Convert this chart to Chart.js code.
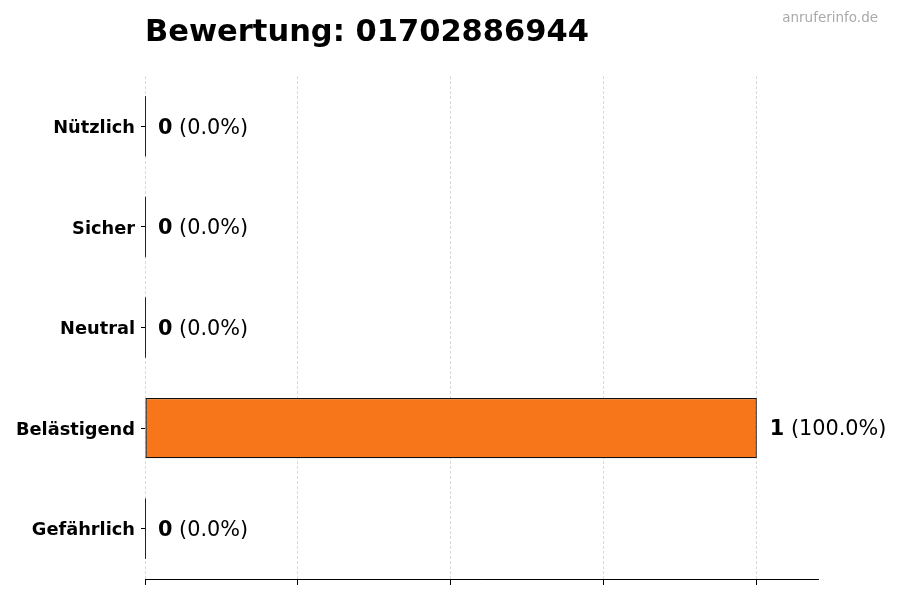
<!DOCTYPE html>
<html>
<head>
<meta charset="utf-8">
<script src="https://cdn.jsdelivr.net/npm/chart.js@4"></script>
<style>
  html, body { margin: 0; padding: 0; background: #fff; }
</style>
</head>
<body>
<canvas id="chart" width="900" height="600"></canvas>
<script>
// Daten
const categories = ['Nützlich', 'Sicher', 'Neutral', 'Belästigend', 'Gefährlich'];
const counts = [0, 0, 0, 1, 0];
const percents = [0.0, 0.0, 0.0, 100.0, 0.0];
const xTicks = [0, 0.25, 0.5, 0.75, 1];
const titleText = 'Bewertung: 01702886944';
const sourceText = 'anruferinfo.de';

const FONT = '"DejaVu Sans", Verdana, sans-serif';

// Werte-Labels neben den Balken + Kante der Null-Balken
const labelPlugin = {
    id: 'valueLabels',
    afterDatasetsDraw(chart) {
        const ctx = chart.ctx;
        const meta = chart.getDatasetMeta(0);
        ctx.save();
        meta.data.forEach((bar, i) => {
            if (counts[i] === 0) {
                ctx.strokeStyle = '#222';
                ctx.lineWidth = 1;
                ctx.beginPath();
                ctx.moveTo(bar.x + 0.5, bar.y - bar.height / 2);
                ctx.lineTo(bar.x + 0.5, bar.y + bar.height / 2);
                ctx.stroke();
            }
            let x = bar.x + 13;
            const y = bar.y + 2;
            ctx.textBaseline = 'middle';
            ctx.textAlign = 'left';
            ctx.fillStyle = '#000';
            ctx.font = 'bold 20.8px ' + FONT;
            const bold = String(counts[i]);
            ctx.fillText(bold, x, y);
            x += ctx.measureText(bold).width;
            ctx.font = '20.8px ' + FONT;
            ctx.fillText(' (' + percents[i].toFixed(1) + '%)', x, y);
        });
        ctx.restore();
    },
    afterDraw(chart) {
        const ctx = chart.ctx;
        ctx.save();
        ctx.fillStyle = '#000';
        ctx.font = 'bold 30.5px ' + FONT;
        ctx.textAlign = 'left';
        ctx.textBaseline = 'alphabetic';
        ctx.fillText(titleText, 145, 41);
        ctx.fillStyle = '#aaa';
        ctx.font = '13.5px ' + FONT;
        ctx.textAlign = 'right';
        ctx.textBaseline = 'middle';
        ctx.fillText(sourceText, 878, 18);
        ctx.restore();
    }
};

const ctx = document.getElementById('chart').getContext('2d');
const chart = new Chart(ctx, {
    type: 'bar',
    data: {
        labels: categories,
        datasets: [{
            data: counts,
            backgroundColor: '#F7761A',
            borderColor: '#111',
            borderWidth: 1.4,
            borderSkipped: false,
            barPercentage: 0.6,
            categoryPercentage: 1
        }]
    },
    options: {
        indexAxis: 'y',
        responsive: false,
        animation: false,
        devicePixelRatio: 1,
        layout: { padding: { top: 76, right: 82, bottom: 0, left: 0 } },
        plugins: {
            legend: { display: false },
            tooltip: { enabled: false }
        },
        scales: {
            x: {
                type: 'linear',
                min: 0,
                max: 1.1,
                z: 1,
                afterBuildTicks: axis => { axis.ticks = xTicks.map(v => ({ value: v })); },
                ticks: { display: false },
                grid: {
                    color: 'rgba(170,170,170,0.55)',
                    lineWidth: 0.8,
                    tickColor: '#000',
                    tickLength: 6,
                    tickWidth: 1,
                    tickBorderDash: []
                },
                border: { display: true, color: '#000', width: 1, dash: [3, 2] },
                afterFit: s => { s.height = 21; }
            },
            y: {
                ticks: {
                    color: '#000',
                    padding: 6,
                    labelOffset: 2,
                    font: { family: FONT, size: 17.8, weight: 'bold' }
                },
                grid: {
                    offset: false,
                    drawOnChartArea: false,
                    drawTicks: true,
                    tickLength: 4,
                    tickColor: '#000'
                },
                border: { display: false },
                afterFit: s => { s.width = 145; }
            }
        }
    },
    plugins: [labelPlugin]
});
</script>
</body>
</html>
